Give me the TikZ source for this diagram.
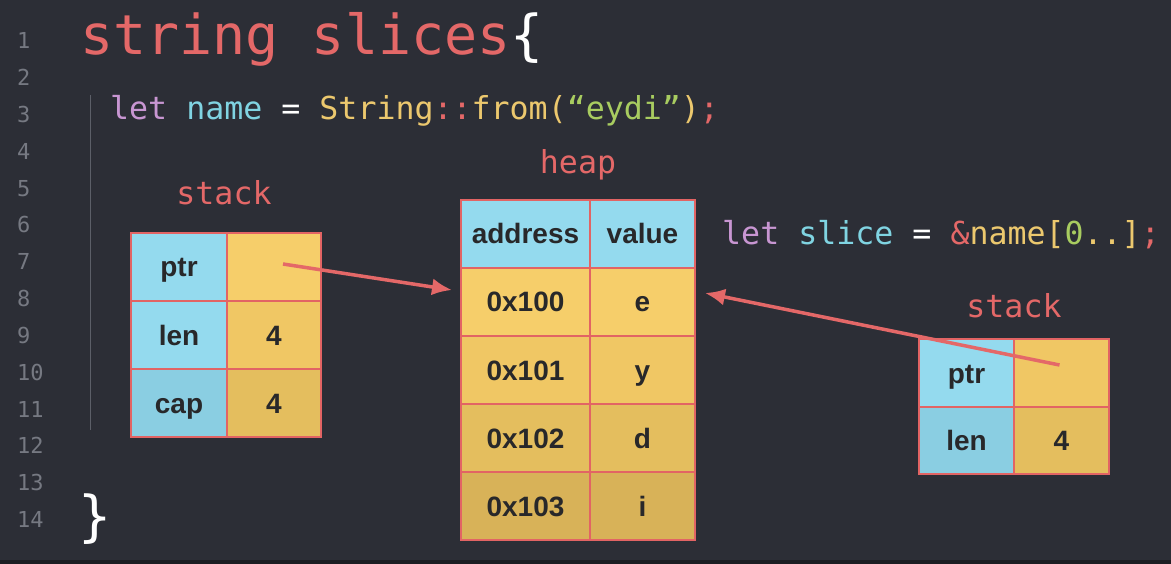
\documentclass[tikz,border=0pt]{standalone}
\usepackage{fontspec}
\usepackage{xcolor}
\usepackage{tikz}
\usetikzlibrary{positioning,arrows.meta}
\setmainfont{Liberation Sans}
\newfontfamily\codefont{DejaVu Sans Mono}
\tikzset{>=Latex}

\definecolor{bgdark}{RGB}{44,46,54}
\definecolor{bgstrip}{RGB}{28,29,34}
\definecolor{linenum}{RGB}{118,121,130}
\definecolor{guide}{RGB}{92,95,104}
\definecolor{codered}{RGB}{228,104,104}
\definecolor{codepurple}{RGB}{200,150,210}
\definecolor{codecyan}{RGB}{128,212,226}
\definecolor{codeyellow}{RGB}{236,200,110}
\definecolor{codegreen}{RGB}{168,204,96}
\definecolor{cellborder}{RGB}{226,100,100}
\definecolor{cellblue}{RGB}{148,218,238}
\definecolor{cellblueb}{RGB}{138,206,226}
\definecolor{cellyellowa}{RGB}{246,206,106}
\definecolor{cellyellowb}{RGB}{240,199,100}
\definecolor{cellyellowc}{RGB}{228,190,94}
\definecolor{cellyellowd}{RGB}{216,178,88}
\definecolor{celltext}{RGB}{40,40,42}

\begin{document}
\begin{tikzpicture}[
x=1pt, y=-1pt,
cell/.style={rectangle, draw=cellborder, line width=1.5pt, inner sep=0pt, outer sep=0pt, minimum height=68pt, text height=24pt, text depth=4pt, text=celltext, font=\fontsize{28}{30}\selectfont\bfseries},
keycell/.style={cell, fill=cellblue, minimum width=96pt},
valcell/.style={cell, fill=cellyellowa, minimum width=94pt},
addrcell/.style={cell, fill=cellyellowa, minimum width=129pt},
datacell/.style={cell, fill=cellyellowa, minimum width=105pt},
codetext/.style={anchor=base west, inner sep=0pt, font=\codefont\fontsize{31.6}{34}\selectfont},
title/.style={anchor=base, inner sep=0pt, text=codered, font=\codefont\fontsize{31.6}{34}\selectfont},
pointer/.style={draw=codered, line width=3.5pt, arrows={-Latex[length=20pt,width=17pt]}},
]
%Background
\fill[bgdark] (0,0) rectangle (1171,564);
\fill[bgstrip] (0,560) rectangle (1171,564);
\useasboundingbox (0,0) rectangle (1171,564);

%Line numbers
\foreach \n in {1,...,14}
  \node[anchor=base west, inner sep=0pt, text=linenum, font=\codefont\fontsize{22}{24}\selectfont] (ln\n) at (17, {49+(\n-1)*36.8}) {\n};
\coordinate (guide top) at (90,95);
\coordinate (guide bottom) at (90,430);
\draw[guide, line width=1pt] (guide top) -- (guide bottom);

%Code
\node[anchor=base west, inner sep=0pt, font=\codefont\fontsize{55}{58}\selectfont] (heading) at (80,55) {\textcolor{codered}{string slices}\textcolor{white}{\{}};
\node[codetext] (letname) at (110,120) {\textcolor{codepurple}{let} \textcolor{codecyan}{name} \textcolor{white}{=} \textcolor{codeyellow}{String}\textcolor{codered}{::}\textcolor{codeyellow}{from(}\textcolor{codegreen}{“eydi”}\textcolor{codeyellow}{)}\textcolor{codered}{;}};
\node[codetext] (letslice) at (722,245) {\textcolor{codepurple}{let} \textcolor{codecyan}{slice} \textcolor{white}{=} \textcolor{codered}{\&}\textcolor{codeyellow}{name[}\textcolor{codegreen}{0}\textcolor{codeyellow}{..]}\textcolor{codered}{;}};
\node[anchor=base west, inner sep=0pt, text=white, font=\codefont\fontsize{55}{58}\selectfont] (closing) at (78,535) {\}};

%Titles
\node[title] (stack left) at (224,205) {stack};
\node[title] (heap) at (578,174) {heap};
\node[title] (stack right) at (1014,318) {stack};

%Left stack
\node[keycell, anchor=north west] (sptr) at (131,233) {ptr};
\node[valcell, right=0pt of sptr] (sptrv) {};
\node[keycell, below=0pt of sptr] (slen) {len};
\node[valcell, fill=cellyellowb, right=0pt of slen] (slenv) {4};
\node[keycell, fill=cellblueb, below=0pt of slen] (scap) {cap};
\node[valcell, fill=cellyellowc, right=0pt of scap] (scapv) {4};

%Heap
\node[addrcell, fill=cellblue, anchor=north west] (haddr) at (461,200) {address};
\node[datacell, fill=cellblue, right=0pt of haddr] (hval) {value};
\node[addrcell, below=0pt of haddr] (h0a) {0x100};
\node[datacell, right=0pt of h0a] (h0v) {e};
\node[addrcell, fill=cellyellowb, below=0pt of h0a] (h1a) {0x101};
\node[datacell, fill=cellyellowb, right=0pt of h1a] (h1v) {y};
\node[addrcell, fill=cellyellowc, below=0pt of h1a] (h2a) {0x102};
\node[datacell, fill=cellyellowc, right=0pt of h2a] (h2v) {d};
\node[addrcell, fill=cellyellowd, below=0pt of h2a] (h3a) {0x103};
\node[datacell, fill=cellyellowd, right=0pt of h3a] (h3v) {i};

%Right stack
\node[keycell, minimum width=95pt, anchor=north west] (rptr) at (919,339) {ptr};
\node[valcell, minimum width=95pt, fill=cellyellowb, right=0pt of rptr] (rptrv) {};
\node[keycell, minimum width=95pt, minimum height=67pt, fill=cellblueb, below=0pt of rptr] (rlen) {len};
\node[valcell, minimum width=95pt, minimum height=67pt, fill=cellyellowc, right=0pt of rlen] (rlenv) {4};

%Arrows
\coordinate (left start) at ([xshift=9pt,yshift=3pt]sptrv.center);
\coordinate (left end) at ([xshift=-9pt,yshift=12pt]h0a.west);
\coordinate (right start) at ([xshift=-2pt,yshift=8pt]rptrv.center);
\coordinate (right end) at ([xshift=10pt,yshift=9pt]h0v.east);
\draw[pointer] (left start) -- (left end);
\draw[pointer] (right start) -- (right end);
\end{tikzpicture}
\end{document}
